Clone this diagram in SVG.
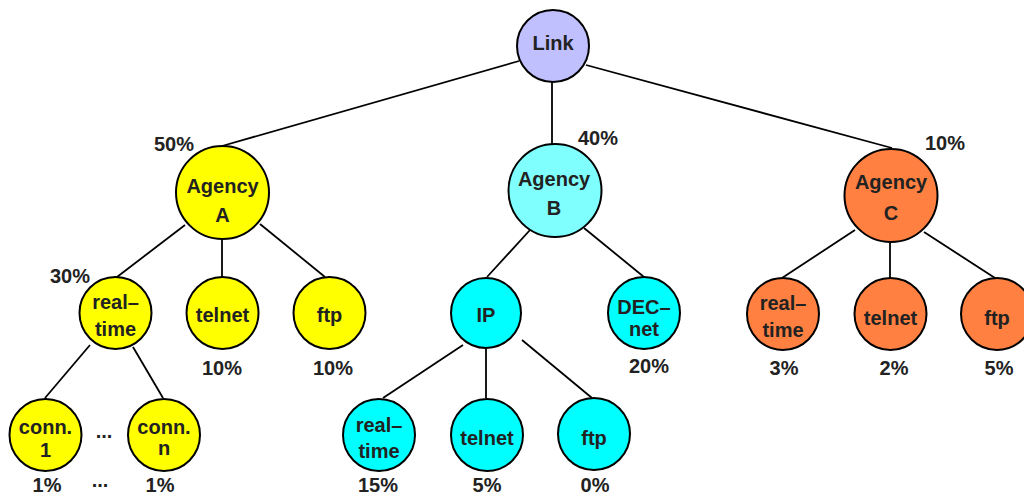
<svg xmlns="http://www.w3.org/2000/svg" width="1024" height="496" viewBox="0 0 1024 496">
<style>
.n{stroke:#000;stroke-width:2}
.l{stroke:#000;stroke-width:1.8;fill:none}
text{font-family:"Liberation Sans",Arial,sans-serif;font-weight:bold;font-size:20px;fill:#222;text-anchor:middle}
.lv{fill:#C0C0FF}.ya{fill:#FFFF00}.cb{fill:#80FFFF}.cy{fill:#00FFFF}.or{fill:#FF8040}
</style>
<rect width="1024" height="496" fill="#fff"/>
<g id="connectors">
<line class="l" x1="519" y1="61" x2="222" y2="146"/>
<line class="l" x1="552" y1="82" x2="552" y2="145"/>
<line class="l" x1="586" y1="65" x2="892" y2="148"/>
<line class="l" x1="185" y1="225" x2="117" y2="277"/>
<line class="l" x1="222" y1="239" x2="222" y2="277"/>
<line class="l" x1="260" y1="224" x2="325" y2="277"/>
<line class="l" x1="90" y1="345" x2="45" y2="398"/>
<line class="l" x1="133" y1="347" x2="163" y2="398"/>
<line class="l" x1="530" y1="230" x2="487" y2="277"/>
<line class="l" x1="584" y1="228" x2="644" y2="277"/>
<line class="l" x1="463" y1="345" x2="383" y2="398"/>
<line class="l" x1="486" y1="349" x2="486" y2="398"/>
<line class="l" x1="522" y1="340" x2="592" y2="398"/>
<line class="l" x1="855" y1="230" x2="782" y2="278"/>
<line class="l" x1="890" y1="243" x2="890" y2="278"/>
<line class="l" x1="924" y1="232" x2="995" y2="278"/>
</g>
<g id="link"><circle class="n lv" cx="553" cy="46" r="36"/><text x="553" y="50">Link</text></g>
<g id="agencyA"><circle class="n ya" cx="222.5" cy="192.5" r="46.5"/><text x="222.5" y="193">Agency</text><text x="222.5" y="222">A</text><text x="174" y="151">50%</text></g>
<g id="agencyB"><circle class="n cb" cx="555" cy="190.5" r="46.5"/><text x="554" y="186">Agency</text><text x="554" y="215">B</text><text x="598" y="145">40%</text></g>
<g id="agencyC"><circle class="n or" cx="891" cy="195.5" r="46.5"/><text x="891" y="189">Agency</text><text x="891" y="220">C</text><text x="945" y="150">10%</text></g>
<g id="rtA"><circle class="n ya" cx="115.5" cy="313" r="36"/><text x="115.5" y="309">real–</text><text x="115.5" y="336">time</text><text x="70" y="283">30%</text></g>
<g id="telnetA"><circle class="n ya" cx="222.5" cy="313" r="36"/><text x="222.5" y="322">telnet</text><text x="222" y="375">10%</text></g>
<g id="ftpA"><circle class="n ya" cx="329.5" cy="313" r="36"/><text x="329.5" y="322">ftp</text><text x="333" y="375">10%</text></g>
<g id="conn1"><circle class="n ya" cx="45.5" cy="435" r="36"/><text x="45.5" y="434">conn.</text><text x="45.5" y="457">1</text><text x="47" y="492">1%</text></g>
<g id="connn"><circle class="n ya" cx="164" cy="435" r="36"/><text x="164" y="434">conn.</text><text x="164" y="455">n</text><text x="160" y="492">1%</text></g>
<g id="dots"><text x="104" y="438">...</text><text x="100" y="487">...</text></g>
<g id="ip"><circle class="n cy" cx="486" cy="313" r="35"/><text x="486" y="322">IP</text></g>
<g id="decnet"><circle class="n cy" cx="644" cy="313" r="36"/><text x="644" y="314">DEC–</text><text x="644" y="336">net</text><text x="649" y="373">20%</text></g>
<g id="rtB"><circle class="n cy" cx="379" cy="435" r="36"/><text x="379" y="432">real–</text><text x="379" y="458">time</text><text x="378" y="492">15%</text></g>
<g id="telnetB"><circle class="n cy" cx="487" cy="435" r="36"/><text x="487" y="445">telnet</text><text x="487" y="492">5%</text></g>
<g id="ftpB"><circle class="n cy" cx="594" cy="434" r="36"/><text x="594" y="445">ftp</text><text x="595" y="492">0%</text></g>
<g id="rtC"><circle class="n or" cx="783" cy="314" r="36"/><text x="783" y="310">real–</text><text x="783" y="337">time</text><text x="784" y="375">3%</text></g>
<g id="telnetC"><circle class="n or" cx="890.5" cy="314" r="36"/><text x="890.5" y="325">telnet</text><text x="894" y="375">2%</text></g>
<g id="ftpC"><circle class="n or" cx="997" cy="314" r="36"/><text x="997" y="325">ftp</text><text x="999" y="375">5%</text></g>
</svg>
